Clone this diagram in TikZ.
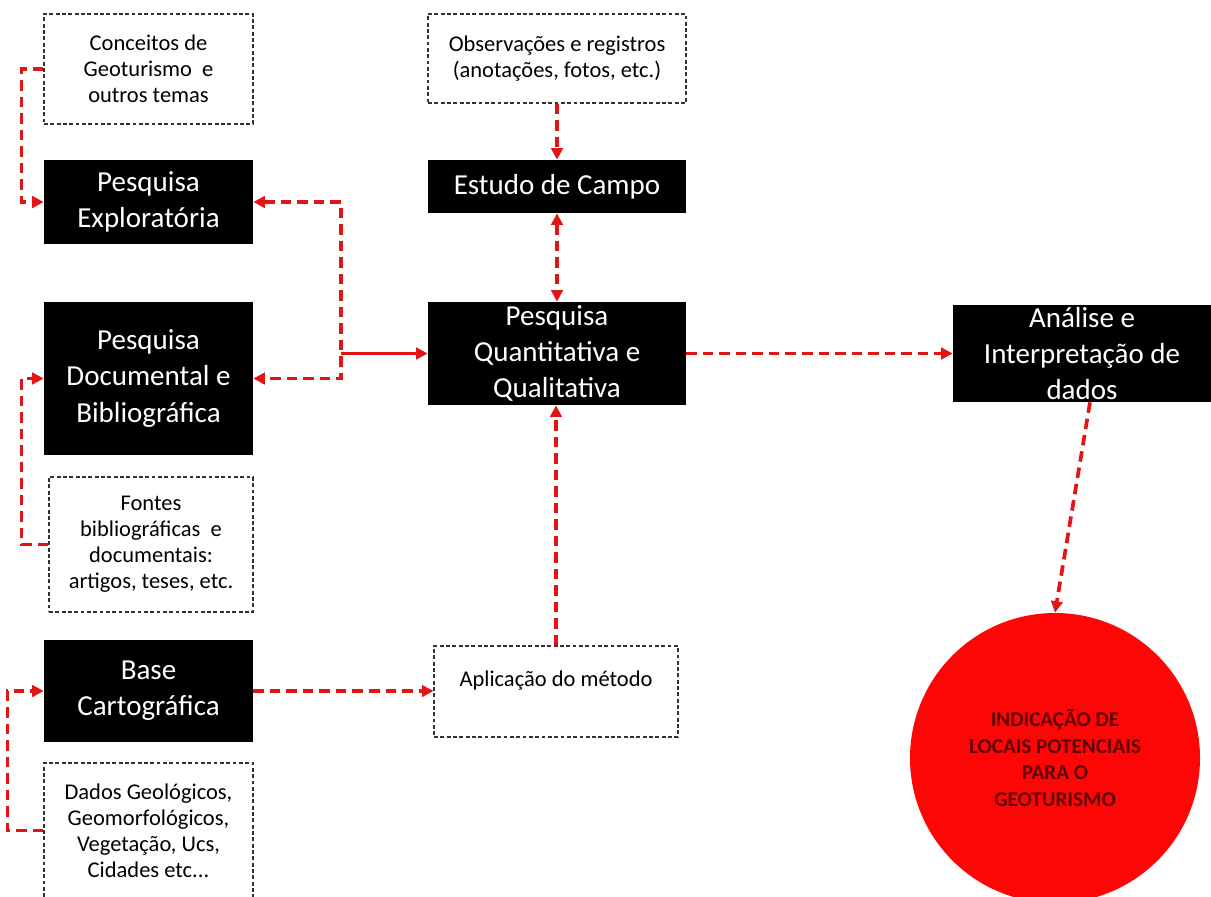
\documentclass[tikz,border=0pt]{standalone}
\usepackage{fontspec}
\setmainfont{Carlito}
\usepackage{xcolor}
\usepackage{tikz}
\usetikzlibrary{arrows.meta,calc}
\definecolor{linkred}{RGB}{226,20,20}
\definecolor{discred}{RGB}{255,6,6}
\definecolor{disctext}{RGB}{95,0,0}

\begin{document}
\begin{tikzpicture}[
  blackbox/.style={fill=black, text=white, align=center, inner sep=1pt,
    font=\fontsize{16.5}{20.6}\selectfont},
  notebox/.style={draw=black!80, line width=0.6pt, dash pattern=on 2.2pt off 1.4pt,
    align=center, inner sep=1pt, font=\fontsize{12.8}{14.8}\selectfont},
  link/.style={draw=linkred, line width=2.1pt, dash pattern=on 6pt off 3.4pt,
    -{Triangle[length=6.5pt,width=6.5pt]}},
  solidlink/.style={draw=linkred, line width=2.1pt,
    -{Triangle[length=6.5pt,width=6.5pt]}},
]
  \useasboundingbox (0,0) rectangle (24.22,-17.92);

  % Left column
  \node[notebox, minimum width=4.18cm, minimum height=2.2cm] (conceitos) at (2.97,-1.38)
    {Conceitos de\\Geoturismo \ e\\outros temas};
  \node[blackbox, minimum width=4.18cm, minimum height=1.68cm] (explor) at (2.97,-4.04)
    {Pesquisa\\Explorat\'oria};
  \node[blackbox, minimum width=4.18cm, minimum height=3.06cm] (documental) at (2.97,-7.57)
    {Pesquisa\\Documental e\\Bibliogr\'afica};
  \node[notebox, minimum width=4.08cm, minimum height=2.7cm] (fontes) at (3.02,-10.89)
    {Fontes\\bibliogr\'aficas \ e\\documentais:\\artigos, teses, etc.};
  \node[blackbox, minimum width=4.18cm, minimum height=2.04cm] (base) at (2.97,-13.82)
    {Base\\Cartogr\'afica};
  \node[notebox, minimum width=4.18cm, minimum height=2.7cm] (dados) at (2.97,-16.61)
    {Dados Geol\'ogicos,\\Geomorfol\'ogicos,\\Vegeta\c{c}\~ao, Ucs,\\Cidades etc...};

  % Middle column
  \node[notebox, minimum width=5.16cm, minimum height=1.78cm] (observ) at (11.14,-1.17)
    {Observa\c{c}\~oes e registros\\(anota\c{c}\~oes, fotos, etc.)};
  \node[blackbox, minimum width=5.16cm, minimum height=1.06cm] (campo) at (11.14,-3.73)
    {Estudo de Campo};
  \node[blackbox, minimum width=5.16cm, minimum height=2.06cm] (quant) at (11.14,-7.07)
    {Pesquisa\\Quantitativa e\\Qualitativa};
  \node[notebox, minimum width=4.88cm, minimum height=1.82cm, text depth=0.5cm] (aplicacao) at (11.12,-13.83)
    {Aplica\c{c}\~ao do m\'etodo};

  % Right column
  \node[blackbox, minimum width=5.16cm, minimum height=1.94cm] (analise) at (21.64,-7.07)
    {An\'alise e\\Interpreta\c{c}\~ao de\\dados};
  \node[circle, fill=discred, minimum size=5.8cm, align=center, text=disctext,
    font=\bfseries\fontsize{12}{15.3}\selectfont] (disc) at (21.1,-15.16)
    {INDICA\c{C}\~AO DE\\LOCAIS POTENCIAIS\\PARA O\\GEOTURISMO};

  % Connectors
  \coordinate (jx) at (6.82,0);
  \draw[link] (conceitos.west) -- ++(-0.44,0) |- (explor.west);
  \draw[link] (fontes.west) -- ++(-0.54,0) |- (documental.west);
  \draw[link] (dados.west) -- ++(-0.72,0) |- (base.west);
  \draw[link, {Triangle[length=6.5pt,width=6.5pt]}-{Triangle[length=6.5pt,width=6.5pt]}]
    (explor.east) -- (explor.east -| jx) -- (documental.east -| jx) -- (documental.east);
  \draw[solidlink] (quant.west -| jx) -- (quant.west);
  \draw[link] (observ.south) -- (campo.north);
  \draw[link, {Triangle[length=6.5pt,width=6.5pt]}-{Triangle[length=6.5pt,width=6.5pt]}]
    (campo.south) -- (quant.north);
  \draw[link] (aplicacao.north) -- (aplicacao.north |- quant.south);
  \draw[link] (base.east) -- (base.east -| aplicacao.west);
  \draw[link] (quant.east) -- (analise.west);
  \draw[link] ([xshift=0.16cm]analise.south) -- (disc.north);
\end{tikzpicture}
\end{document}
